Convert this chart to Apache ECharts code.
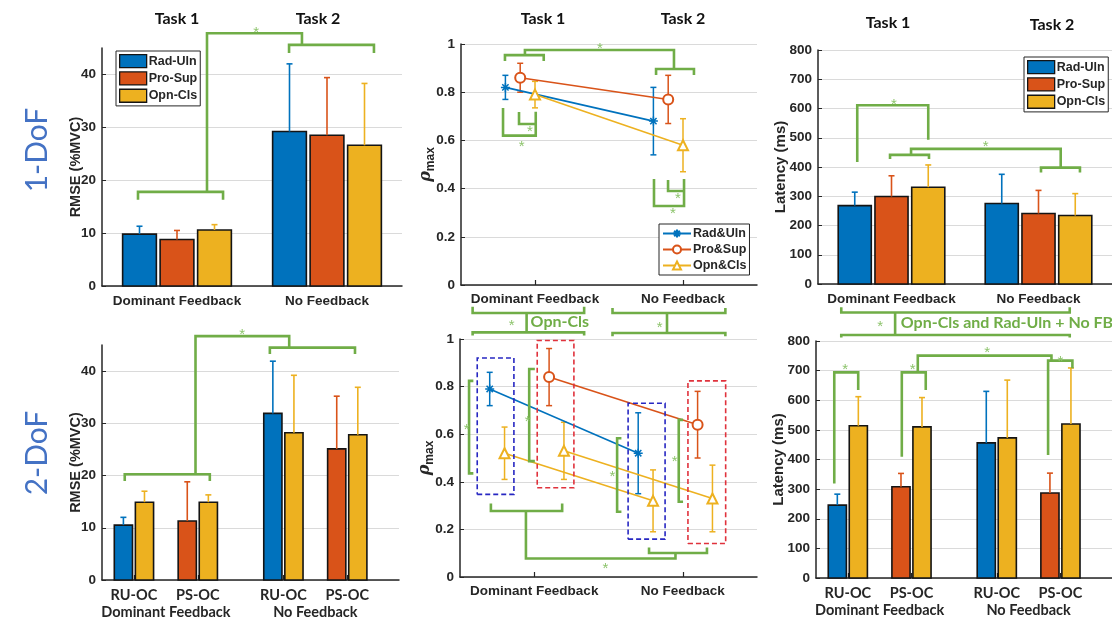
<!DOCTYPE html>
<html>
<head>
<meta charset="utf-8">
<script src="https://cdn.jsdelivr.net/npm/echarts@6/dist/echarts.min.js"></script>
<style>
  html, body { margin: 0; padding: 0; background: #ffffff; }
  #chart { width: 1112px; height: 623px; }
</style>
</head>
<body>
<div id="chart"></div>
<script>
// ---------------- data ----------------
const conditions = ['Dominant Feedback', 'No Feedback'];
const combos = ['RU-OC', 'PS-OC'];

const rmseTicks = [0, 10, 20, 30, 40];
const rhoTicks = [0, 0.2, 0.4, 0.6, 0.8, 1];
const latTicks = [0, 100, 200, 300, 400, 500, 600, 700, 800];

// 1-DoF, RMSE (%MVC): mean and SD per condition
const rmse1RadUln = [9.8, 29.2];
const rmse1RadUlnSd = [1.5, 12.8];
const rmse1ProSup = [8.8, 28.5];
const rmse1ProSupSd = [1.7, 10.9];
const rmse1OpnCls = [10.6, 26.6];
const rmse1OpnClsSd = [1.0, 11.7];

// 1-DoF, rho_max
const rho1RadUln = [0.82, 0.68];
const rho1RadUlnSd = [0.05, 0.14];
const rho1ProSup = [0.86, 0.77];
const rho1ProSupSd = [0.06, 0.10];
const rho1OpnCls = [0.79, 0.58];
const rho1OpnClsSd = [0.055, 0.11];

// 1-DoF, latency (ms)
const lat1RadUln = [268, 275];
const lat1RadUlnSd = [46, 100];
const lat1ProSup = [299, 241];
const lat1ProSupSd = [71, 79];
const lat1OpnCls = [331, 234];
const lat1OpnClsSd = [76, 75];

// 2-DoF, RMSE (%MVC): RU-OC and PS-OC combinations
const rmse2RadUln = [10.5, 31.9];
const rmse2RadUlnSd = [1.5, 10.0];
const rmse2RuOpnCls = [14.9, 28.2];
const rmse2RuOpnClsSd = [2.1, 11.0];
const rmse2ProSup = [11.3, 25.1];
const rmse2ProSupSd = [7.5, 10.1];
const rmse2PsOpnCls = [14.9, 27.8];
const rmse2PsOpnClsSd = [1.4, 9.1];

// 2-DoF, rho_max
const rho2RadUln = [0.79, 0.52];
const rho2RadUlnSd = [0.07, 0.17];
const rho2RuOpnCls = [0.52, 0.32];
const rho2RuOpnClsSd = [0.11, 0.13];
const rho2ProSup = [0.84, 0.64];
const rho2ProSupSd = [0.12, 0.14];
const rho2PsOpnCls = [0.53, 0.33];
const rho2PsOpnClsSd = [0.12, 0.14];

// 2-DoF, latency (ms)
const lat2RadUln = [246, 456];
const lat2RadUlnSd = [37, 174];
const lat2RuOpnCls = [514, 473];
const lat2RuOpnClsSd = [98, 195];
const lat2ProSup = [308, 287];
const lat2ProSupSd = [45, 67];
const lat2PsOpnCls = [510, 520];
const lat2PsOpnClsSd = [99, 189];

// ---------------- significance annotations (axis units) ----------------
const rmse1Sig = [
  { pts: [[-0.26, 16.3], [-0.26, 17.8], [0.307, 17.8], [0.307, 16.3]] },
  { pts: [[0.2, 17.8], [0.2, 47.8], [0.833, 47.8], [0.833, 45.6]] },
  { pts: [[0.747, 44.05], [0.747, 45.6], [1.313, 45.6], [1.313, 44.05]] },
  { star: [0.527, 48.6] }
];
const rho1Sig = [
  { pts: [[-0.203, 0.929], [-0.203, 0.954], [0.059, 0.954], [0.059, 0.929]] },
  { pts: [[-0.068, 0.954], [-0.068, 0.975], [0.939, 0.975], [0.939, 0.896]] },
  { pts: [[0.818, 0.871], [0.818, 0.896], [1.074, 0.896], [1.074, 0.871]] },
  { star: [0.439, 0.996] },
  { pts: [[-0.216, 0.734], [-0.216, 0.62], [0.005, 0.62], [0.005, 0.719]] },
  { pts: [[-0.108, 0.718], [-0.108, 0.668], [0.005, 0.668]] },
  { star: [-0.09, 0.589] },
  { star: [-0.034, 0.651] },
  { pts: [[0.804, 0.44], [0.804, 0.328], [1.007, 0.328], [1.007, 0.44]] },
  { pts: [[0.899, 0.436], [0.899, 0.39], [1.007, 0.39]] },
  { star: [0.932, 0.308] },
  { star: [0.966, 0.373] }
];
const lat1Sig = [
  { pts: [[-0.233, 417.5], [-0.233, 611], [0.25, 611], [0.25, 493]] },
  { star: [0.017, 626] },
  { pts: [[-0.01, 427], [-0.01, 441.5], [0.255, 441.5], [0.255, 427]] },
  { pts: [[0.133, 441.5], [0.133, 462], [1.151, 462], [1.151, 398]] },
  { pts: [[1.017, 381], [1.017, 398], [1.282, 398], [1.282, 381]] },
  { star: [0.641, 482] }
];
const rmse2Sig = [
  { pts: [[0.856, 18.96], [0.856, 20.24], [2.188, 20.24], [2.188, 18.96]] },
  { pts: [[1.964, 20.24], [1.964, 46.7], [3.431, 46.7], [3.431, 44.5]] },
  { pts: [[3.128, 43.3], [3.128, 44.5], [4.461, 44.5], [4.461, 43.3]] },
  { star: [2.694, 47.7] }
];
const rho2Sig = [
  { box: [-0.384, -0.137, 0.347, 0.92], color: '#2727C2' },
  { box: [0.632, 0.881, 0.159, 0.73], color: '#2727C2' },
  { box: [0.02, 0.267, 0.375, 0.994], color: '#E0323C' },
  { box: [1.035, 1.289, 0.141, 0.824], color: '#E0323C' },
  { pts: [[-0.41, 0.824], [-0.439, 0.824], [-0.439, 0.4355], [-0.41, 0.4355]] },
  { star: [-0.455, 0.635] },
  { pts: [[0.004, 0.874], [-0.034, 0.874], [-0.034, 0.487], [0.004, 0.487]] },
  { star: [-0.045, 0.667] },
  { pts: [[0.587, 0.583], [0.558, 0.583], [0.558, 0.274], [0.587, 0.274]] },
  { star: [0.527, 0.436] },
  { pts: [[1.002, 0.66], [0.973, 0.66], [0.973, 0.316], [1.002, 0.316]] },
  { star: [0.946, 0.499] },
  { pts: [[-0.292, 0.309], [-0.292, 0.277], [0.188, 0.277], [0.188, 0.309]] },
  { pts: [[-0.056, 0.277], [-0.056, 0.0775], [0.951, 0.0775], [0.951, 0.101]] },
  { pts: [[0.773, 0.124], [0.773, 0.101], [1.163, 0.101], [1.163, 0.124]] },
  { star: [0.48, 0.049] },
  { pts: [[-0.415, 1.135], [-0.415, 1.1095], [0.336, 1.1095], [0.336, 1.135]] },
  { pts: [[-0.415, 1.015], [-0.415, 1.028], [0.336, 1.028], [0.336, 1.015]] },
  { pts: [[-0.0515, 1.1095], [-0.0515, 1.028]] },
  { star: [-0.152, 1.07] },
  { text: 'Opn-Cls', at: [-0.0245, 1.07] },
  { pts: [[0.527, 1.13], [0.527, 1.1095], [1.287, 1.1095], [1.287, 1.13]] },
  { pts: [[0.527, 1.012], [0.527, 1.025], [1.287, 1.025], [1.287, 1.012]] },
  { pts: [[0.894, 1.1095], [0.894, 1.025]] },
  { star: [0.845, 1.06] }
];
const lat2Sig = [
  { pts: [[0.787, 319], [0.787, 694], [1.163, 694], [1.163, 634.5]] },
  { star: [0.959, 713] },
  { pts: [[1.848, 409], [1.848, 694], [2.224, 694], [2.224, 634.5]] },
  { star: [2.02, 713] },
  { pts: [[2.099, 694], [2.099, 750.5], [4.199, 750.5], [4.199, 733.6]] },
  { star: [3.19, 773] },
  { pts: [[4.146, 415], [4.146, 733.6], [4.528, 733.6], [4.528, 708]] },
  { star: [4.34, 741.7] },
  { pts: [[0.897, 914], [0.897, 896], [4.486, 896], [4.486, 914]] },
  { pts: [[0.897, 811.4], [0.897, 820.5], [4.486, 820.5], [4.486, 811.4]] },
  { pts: [[1.743, 896], [1.743, 820.5]] },
  { star: [1.508, 860] },
  { text: 'Opn-Cls and Rad-Uln + No FB', at: [1.832, 860] }
];

// ---------------- styling ----------------
const BLUE = '#0072BD', ORANGE = '#D95319', YELLOW = '#EDB120';
const GREEN = '#70AD47', STAR_GREEN = '#8DC46C';
const INK = '#262626';
const SANS = '"Liberation Sans", Arial, sans-serif';
const OFFICE = 'Lato, "Open Sans", sans-serif';

const tickFont = { fontFamily: SANS, fontWeight: 'bold', fontSize: 13.5, color: INK };
const comboFont = { fontFamily: OFFICE, fontWeight: 'bold', fontSize: 14.5, color: INK };

// layout of the grouped positions on the x axes
const barOffset1 = [-0.25, 0, 0.25];     // three DoF bars per condition
const barWidth1 = 0.225;
const lineOffset1 = [-0.2, -0.1, 0];     // 1-DoF rho markers
const comboGap = 2.34;                  // distance between conditions, 2-DoF bar panels
const pairOffset = 0.165, barWidth2 = 0.285;
const comboPos = (c, g) => 1 + c + comboGap * g;

function nearestIndex(list, v) {
  let best = 0;
  list.forEach((x, i) => { if (Math.abs(x - v) < Math.abs(list[best] - v)) best = i; });
  return best;
}

function xAxisDef(gridIndex, min, max, values, texts, font, margin) {
  return {
    type: 'value', gridIndex, min, max, position: 'bottom',
    axisLine: { show: true, onZero: false, lineStyle: { color: INK, width: 1.5 } },
    axisTick: { show: true, inside: true, length: 5, customValues: values, lineStyle: { color: INK, width: 1.2 } },
    axisLabel: Object.assign({ customValues: values, margin, formatter: v => texts[nearestIndex(values, v)] }, font),
    splitLine: { show: false }
  };
}

function groupAxisDef(gridIndex, min, max, values, texts) {
  return {
    type: 'value', gridIndex, min, max, position: 'bottom', offset: 17,
    axisLine: { show: false, onZero: false }, axisTick: { show: false }, splitLine: { show: false },
    axisLabel: Object.assign({ customValues: values, margin: 8, formatter: v => texts[nearestIndex(values, v)] }, comboFont)
  };
}

function yAxisDef(gridIndex, max, interval, ticks, name, nameGap, nameTextStyle, gridColors) {
  return {
    type: 'value', gridIndex, min: 0, max, interval, position: 'left',
    name, nameLocation: 'middle', nameGap, nameTextStyle, nameMoveOverlap: false,
    axisLine: { show: true, onZero: false, lineStyle: { color: INK, width: 1.5 } },
    axisTick: { show: true, inside: true, length: 4, customValues: ticks, lineStyle: { color: INK } },
    axisLabel: Object.assign({ customValues: ticks, margin: 6 }, tickFont),
    splitLine: { show: true, lineStyle: { color: gridColors, width: 1 } }
  };
}

const nameFont = size => ({ fontFamily: SANS, fontWeight: 'bold', fontSize: size, color: INK });
const rhoName = {
  rich: {
    r: { fontFamily: '"DejaVu Serif", serif', fontStyle: 'italic', fontWeight: 'bold', fontSize: 16, color: INK, lineHeight: 22, verticalAlign: 'middle' },
    s: { fontFamily: SANS, fontWeight: 'bold', fontSize: 12, color: INK, lineHeight: 12, verticalAlign: 'bottom' }
  }
};
const GRID_GRAY = '#DADADA';
const rmseGridColors = [GRID_GRAY, GRID_GRAY, GRID_GRAY, GRID_GRAY, GRID_GRAY, 'rgba(0,0,0,0)'];

// ---------------- series builders ----------------
function barSeries(name, xi, yi, xs, ys, sds, color, width) {
  return {
    type: 'custom', name, xAxisIndex: xi, yAxisIndex: yi, clip: false, z: 2,
    itemStyle: { color },
    data: xs.map((x, i) => [x, ys[i], sds[i]]),
    renderItem: (params, api) => {
      const x = api.value(0), m = api.value(1), s = api.value(2);
      const p0 = api.coord([x - width / 2, 0]);
      const p1 = api.coord([x + width / 2, m]);
      const e0 = api.coord([x, m]);
      const e1 = api.coord([x, m + s]);
      const st = { stroke: color, lineWidth: 1.6 };
      return {
        type: 'group', children: [
          { type: 'rect', shape: { x: p0[0], y: p1[1], width: p1[0] - p0[0], height: p0[1] - p1[1] },
            style: { fill: color, stroke: '#141414', lineWidth: 1.6 } },
          { type: 'line', shape: { x1: e0[0], y1: e0[1], x2: e1[0], y2: e1[1] }, style: st },
          { type: 'line', shape: { x1: e1[0] - 3, y1: e1[1], x2: e1[0] + 3, y2: e1[1] }, style: st }
        ]
      };
    }
  };
}

function errSeries(xi, yi, xs, ys, sds, color) {
  return {
    type: 'custom', xAxisIndex: xi, yAxisIndex: yi, clip: false, silent: true, z: 3,
    itemStyle: { color },
    data: xs.map((x, i) => [x, ys[i], sds[i]]),
    renderItem: (params, api) => {
      const x = api.value(0), m = api.value(1), s = api.value(2);
      const a = api.coord([x, m + s]), b = api.coord([x, m - s]);
      const st = { stroke: color, lineWidth: 1.5 };
      return {
        type: 'group', children: [
          { type: 'line', shape: { x1: a[0], y1: a[1], x2: b[0], y2: b[1] }, style: st },
          { type: 'line', shape: { x1: a[0] - 3, y1: a[1], x2: a[0] + 3, y2: a[1] }, style: st },
          { type: 'line', shape: { x1: b[0] - 3, y1: b[1], x2: b[0] + 3, y2: b[1] }, style: st }
        ]
      };
    }
  };
}

const ASTERISK = 'path://M5 0L5 10M0 5L10 5M1.5 1.5L8.5 8.5M1.5 8.5L8.5 1.5';
function lineSeries(name, xi, yi, xs, ys, color, symbol) {
  return {
    type: 'line', name, xAxisIndex: xi, yAxisIndex: yi, z: 4,
    data: xs.map((x, i) => [x, ys[i]]),
    symbol, symbolSize: symbol === ASTERISK ? 9 : 10, showSymbol: true,
    lineStyle: { color, width: 1.6 },
    itemStyle: { color, borderColor: color, borderWidth: 1.5 }
  };
}

function sigSeries(xi, yi, items) {
  return {
    type: 'custom', xAxisIndex: xi, yAxisIndex: yi, clip: false, silent: true, z: 6,
    data: items.map((it, i) => {
      const p = it.pts ? it.pts[0] : it.box ? [it.box[0], it.box[2]] : (it.star || it.at);
      return [p[0], p[1], i];
    }),
    renderItem: (params, api) => {
      const it = items[api.value(2)];
      if (it.pts) {
        return { type: 'polyline', shape: { points: it.pts.map(p => api.coord(p)) },
          style: { stroke: GREEN, lineWidth: 2.6, fill: null, lineJoin: 'miter' } };
      }
      if (it.box) {
        const [x0, x1, y0, y1] = it.box;
        const pts = [[x0, y0], [x1, y0], [x1, y1], [x0, y1], [x0, y0]].map(p => api.coord(p));
        return { type: 'polyline', shape: { points: pts },
          style: { stroke: it.color, lineWidth: 1.6, fill: null, lineDash: [5, 3] } };
      }
      if (it.star) {
        const p = api.coord(it.star);
        return { type: 'text', x: p[0], y: p[1] + 3.5,
          style: { text: '*', fill: STAR_GREEN, font: '15px "Liberation Sans", Arial', align: 'center', verticalAlign: 'middle' } };
      }
      const p = api.coord(it.at);
      return { type: 'text', x: p[0], y: p[1],
        style: { text: it.text, fill: GREEN, font: 'bold 16px Lato, sans-serif', align: 'left', verticalAlign: 'middle' } };
    }
  };
}

// ---------------- assemble ----------------
const condIdx = conditions.map((_, g) => g);
const at = off => condIdx.map(g => g + off);
const comboAt = (c, off) => condIdx.map(g => comboPos(c, g) + off);
const comboValues = [comboPos(0, 0), comboPos(1, 0), comboPos(0, 1), comboPos(1, 1)];
const comboTexts = [combos[0], combos[1], combos[0], combos[1]];
const groupValues = condIdx.map(g => (comboPos(0, g) + comboPos(1, g)) / 2);
const X2MAX = 5.15;

const grids = [
  { left: 102, top: 48, width: 300, height: 238 },
  { left: 461, top: 44, width: 296, height: 241 },
  { left: 818, top: 50, width: 294, height: 234 },
  { left: 102, top: 345, width: 297, height: 235 },
  { left: 460, top: 339, width: 297, height: 238 },
  { left: 816, top: 341, width: 296, height: 237 }
].map(g => Object.assign({ outerBoundsMode: 'none', containLabel: false }, g));

const xAxes = [
  xAxisDef(0, -0.5, 1.5, [0, 1], conditions, tickFont, 8),
  xAxisDef(1, -0.5, 1.5, [0, 1], conditions, tickFont, 7),
  xAxisDef(2, -0.5, 1.5, [0, 1], conditions, tickFont, 8),
  xAxisDef(3, 0.5, X2MAX, comboValues, comboTexts, comboFont, 8),
  groupAxisDef(3, 0.5, X2MAX, groupValues, conditions),
  xAxisDef(4, -0.5, 1.5, [0, 1], conditions, tickFont, 7),
  xAxisDef(5, 0.5, X2MAX, comboValues, comboTexts, comboFont, 8),
  groupAxisDef(5, 0.5, X2MAX, groupValues, conditions)
];

const yAxes = [
  yAxisDef(0, 45, 10, rmseTicks, 'RMSE (%MVC)', 19, nameFont(14.5), rmseGridColors),
  yAxisDef(1, 1, 0.2, rhoTicks, '{r|ρ}{s|max}', 24, rhoName, GRID_GRAY),
  yAxisDef(2, 800, 100, latTicks, 'Latency (ms)', 30, nameFont(15), GRID_GRAY),
  yAxisDef(3, 45, 10, rmseTicks, 'RMSE (%MVC)', 19, nameFont(14.5), rmseGridColors),
  yAxisDef(4, 1, 0.2, rhoTicks, '{r|ρ}{s|max}', 24, rhoName, GRID_GRAY),
  yAxisDef(5, 800, 100, latTicks, 'Latency (ms)', 30, nameFont(15), GRID_GRAY)
];

const series = [
  // 1-DoF RMSE
  barSeries('Rad-Uln', 0, 0, at(barOffset1[0]), rmse1RadUln, rmse1RadUlnSd, BLUE, barWidth1),
  barSeries('Pro-Sup', 0, 0, at(barOffset1[1]), rmse1ProSup, rmse1ProSupSd, ORANGE, barWidth1),
  barSeries('Opn-Cls', 0, 0, at(barOffset1[2]), rmse1OpnCls, rmse1OpnClsSd, YELLOW, barWidth1),
  sigSeries(0, 0, rmse1Sig),
  // 1-DoF rho
  errSeries(1, 1, at(lineOffset1[0]), rho1RadUln, rho1RadUlnSd, BLUE),
  errSeries(1, 1, at(lineOffset1[1]), rho1ProSup, rho1ProSupSd, ORANGE),
  errSeries(1, 1, at(lineOffset1[2]), rho1OpnCls, rho1OpnClsSd, YELLOW),
  lineSeries('Rad&Uln', 1, 1, at(lineOffset1[0]), rho1RadUln, BLUE, ASTERISK),
  lineSeries('Pro&Sup', 1, 1, at(lineOffset1[1]), rho1ProSup, ORANGE, 'emptyCircle'),
  lineSeries('Opn&Cls', 1, 1, at(lineOffset1[2]), rho1OpnCls, YELLOW, 'emptyTriangle'),
  sigSeries(1, 1, rho1Sig),
  // 1-DoF latency
  barSeries('Rad-Uln', 2, 2, at(barOffset1[0]), lat1RadUln, lat1RadUlnSd, BLUE, barWidth1),
  barSeries('Pro-Sup', 2, 2, at(barOffset1[1]), lat1ProSup, lat1ProSupSd, ORANGE, barWidth1),
  barSeries('Opn-Cls', 2, 2, at(barOffset1[2]), lat1OpnCls, lat1OpnClsSd, YELLOW, barWidth1),
  sigSeries(2, 2, lat1Sig),
  // 2-DoF RMSE
  barSeries('Rad-Uln', 3, 3, comboAt(0, -pairOffset), rmse2RadUln, rmse2RadUlnSd, BLUE, barWidth2),
  barSeries('Opn-Cls', 3, 3, comboAt(0, pairOffset), rmse2RuOpnCls, rmse2RuOpnClsSd, YELLOW, barWidth2),
  barSeries('Pro-Sup', 3, 3, comboAt(1, -pairOffset), rmse2ProSup, rmse2ProSupSd, ORANGE, barWidth2),
  barSeries('Opn-Cls', 3, 3, comboAt(1, pairOffset), rmse2PsOpnCls, rmse2PsOpnClsSd, YELLOW, barWidth2),
  sigSeries(3, 3, rmse2Sig),
  // 2-DoF rho
  errSeries(5, 4, at(-0.3), rho2RadUln, rho2RadUlnSd, BLUE),
  errSeries(5, 4, at(-0.2), rho2RuOpnCls, rho2RuOpnClsSd, YELLOW),
  errSeries(5, 4, at(0.1), rho2ProSup, rho2ProSupSd, ORANGE),
  errSeries(5, 4, at(0.2), rho2PsOpnCls, rho2PsOpnClsSd, YELLOW),
  lineSeries('Rad&Uln', 5, 4, at(-0.3), rho2RadUln, BLUE, ASTERISK),
  lineSeries('Opn&Cls', 5, 4, at(-0.2), rho2RuOpnCls, YELLOW, 'emptyTriangle'),
  lineSeries('Pro&Sup', 5, 4, at(0.1), rho2ProSup, ORANGE, 'emptyCircle'),
  lineSeries('Opn&Cls', 5, 4, at(0.2), rho2PsOpnCls, YELLOW, 'emptyTriangle'),
  sigSeries(5, 4, rho2Sig),
  // 2-DoF latency
  barSeries('Rad-Uln', 6, 5, comboAt(0, -pairOffset), lat2RadUln, lat2RadUlnSd, BLUE, barWidth2),
  barSeries('Opn-Cls', 6, 5, comboAt(0, pairOffset), lat2RuOpnCls, lat2RuOpnClsSd, YELLOW, barWidth2),
  barSeries('Pro-Sup', 6, 5, comboAt(1, -pairOffset), lat2ProSup, lat2ProSupSd, ORANGE, barWidth2),
  barSeries('Opn-Cls', 6, 5, comboAt(1, pairOffset), lat2PsOpnCls, lat2PsOpnClsSd, YELLOW, barWidth2),
  sigSeries(6, 5, lat2Sig)
];

const barLegendItems = [
  { name: 'Rad-Uln', icon: 'rect', itemStyle: { color: BLUE, borderColor: '#141414', borderWidth: 1.3 } },
  { name: 'Pro-Sup', icon: 'rect', itemStyle: { color: ORANGE, borderColor: '#141414', borderWidth: 1.3 } },
  { name: 'Opn-Cls', icon: 'rect', itemStyle: { color: YELLOW, borderColor: '#141414', borderWidth: 1.3 } }
];
const legendBase = {
  orient: 'vertical', selectedMode: false, backgroundColor: '#ffffff',
  borderColor: INK, borderWidth: 1, borderRadius: 0, padding: [3, 3, 3, 3],
  itemGap: 3, itemWidth: 27, itemHeight: 13,
  textStyle: { fontFamily: SANS, fontWeight: 'bold', fontSize: 12.5, color: INK, padding: [0, 0, 0, -3] }
};

const legends = [
  Object.assign({}, legendBase, { left: 116, top: 51, data: barLegendItems }),
  Object.assign({}, legendBase, { left: 1024, top: 57, data: barLegendItems }),
  Object.assign({}, legendBase, { left: 659, top: 224, itemHeight: 10, itemWidth: 28,
    data: ['Rad&Uln', 'Pro&Sup', 'Opn&Cls'] })
];

const titleStyle = { font: 'bold 16px Lato, sans-serif', fill: '#111111', align: 'center', verticalAlign: 'middle' };
const taskTitles = [
  ['Task 1', 177, 19], ['Task 2', 318, 19],
  ['Task 1', 543, 19], ['Task 2', 683, 19],
  ['Task 1', 888, 23], ['Task 2', 1052, 25]
];
const graphics = taskTitles.map(([t, x, y]) => ({ type: 'text', x, y, style: Object.assign({ text: t }, titleStyle) }))
  .concat([
    { type: 'text', x: 37, y: 150, rotation: Math.PI / 2,
      style: { text: '1-DoF', font: '30px Lato, sans-serif', fill: '#4472C4', align: 'center', verticalAlign: 'middle' } },
    { type: 'text', x: 37, y: 453, rotation: Math.PI / 2,
      style: { text: '2-DoF', font: '30px Lato, sans-serif', fill: '#4472C4', align: 'center', verticalAlign: 'middle' } }
  ]);

const chart = echarts.init(document.getElementById('chart'), null, { renderer: 'canvas', width: 1112, height: 623 });
chart.setOption({
  animation: false,
  backgroundColor: '#ffffff',
  textStyle: { fontFamily: SANS },
  tooltip: { show: false },
  grid: grids,
  xAxis: xAxes,
  yAxis: yAxes,
  legend: legends,
  series,
  graphic: graphics
});
</script>
</body>
</html>
